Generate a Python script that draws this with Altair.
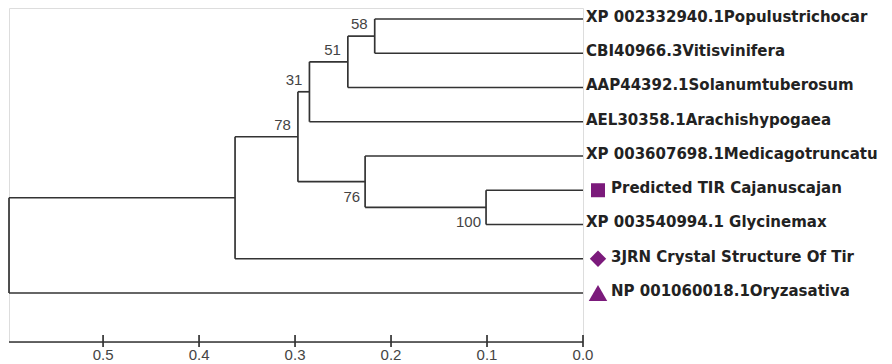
import altair as alt
import pandas as pd

# ---- data ----
leaf_names = [
    "XP 002332940.1Populustrichocar",
    "CBI40966.3Vitisvinifera",
    "AAP44392.1Solanumtuberosum",
    "AEL30358.1Arachishypogaea",
    "XP 003607698.1Medicagotruncatu",
    "Predicted TIR Cajanuscajan",
    "XP 003540994.1 Glycinemax",
    "3JRN Crystal Structure Of Tir",
    "NP 001060018.1Oryzasativa",
]
leaf_markers = ["", "", "", "", "", "square", "", "diamond", "triangle-up"]

node_ids = ["n58", "n51", "n31", "n100", "n76", "n78", "nA", "root"]
node_heights = [0.217, 0.245, 0.285, 0.101, 0.227, 0.297, 0.3625, 0.598]
node_children = [
    ("L0", "L1"),
    ("n58", "L2"),
    ("n51", "L3"),
    ("L5", "L6"),
    ("L4", "n100"),
    ("n31", "n76"),
    ("n78", "L7"),
    ("nA", "L8"),
]
node_support = [58, 51, 31, 100, 76, 78, None, None]

tick_values = [0.0, 0.1, 0.2, 0.3, 0.4, 0.5]
tick_labels = ["0.0", "0.1", "0.2", "0.3", "0.4", "0.5"]

# ---- tree layout from the structure ----
pos = {}
for i, _ in enumerate(leaf_names):
    pos[f"L{i}"] = (0.0, float(i))
parent = {}
for nid, h, ch in zip(node_ids, node_heights, node_children):
    ys = [pos[c][1] for c in ch]
    pos[nid] = (h, sum(ys) / 2.0)
    for k, c in enumerate(ch):
        parent[c] = (nid, k)

segs = []
for nid, h, ch in zip(node_ids, node_heights, node_children):
    ys = [pos[c][1] for c in ch]
    segs.append({"x": h, "x2": h, "y": min(ys), "y2": max(ys)})
    for c in ch:
        segs.append({"x": h, "x2": pos[c][0], "y": pos[c][1], "y2": pos[c][1]})
seg_df = pd.DataFrame(segs)

sup_rows = []
for nid, s in zip(node_ids, node_support):
    if s is None:
        continue
    side = "upper" if parent[nid][1] == 0 else "lower"
    sup_rows.append({"x": pos[nid][0], "y": pos[nid][1], "label": str(s), "side": side})
sup_df = pd.DataFrame(sup_rows)

leaf_df = pd.DataFrame({
    "x": [0.0] * len(leaf_names),
    "y": [float(i) for i in range(len(leaf_names))],
    "name": leaf_names,
    "marker": leaf_markers,
})

tick_df = pd.DataFrame({"x": tick_values, "label": tick_labels})
axis_df = pd.DataFrame({"x": [0.598], "x2": [0.0]})

W, H = 574, 334
xs = alt.Scale(domain=[0, 0.598], reverse=True, nice=False, zero=False)
ys = alt.Scale(domain=[-0.321, 9.431], reverse=True, nice=False, zero=False)
LINE = "#333333"
PURPLE = "#7b1a7b"

base_x = alt.X("x:Q", scale=xs, axis=None)
base_y = alt.Y("y:Q", scale=ys, axis=None)

branches = alt.Chart(seg_df).mark_rule(color=LINE, strokeWidth=1.7).encode(
    x=base_x, x2="x2:Q", y=base_y, y2="y2:Q"
)

sup_upper = alt.Chart(sup_df).transform_filter(alt.datum.side == "upper").mark_text(
    align="right", baseline="middle", dx=-7, dy=-12, fontSize=15,
    font="Liberation Sans", color="#444444"
).encode(x=base_x, y=base_y, text="label:N")

sup_lower = alt.Chart(sup_df).transform_filter(alt.datum.side == "lower").mark_text(
    align="right", baseline="middle", dx=-5, dy=15, fontSize=15,
    font="Liberation Sans", color="#444444"
).encode(x=base_x, y=base_y, text="label:N")

plain_labels = alt.Chart(leaf_df).transform_filter(alt.datum.marker == "").mark_text(
    align="left", baseline="middle", dx=3, dy=-2, fontSize=15, fontWeight="bold",
    font="DejaVu Sans", color="#222222"
).encode(x=base_x, y=base_y, text="name:N")

marked_labels = alt.Chart(leaf_df).transform_filter(alt.datum.marker != "").mark_text(
    align="left", baseline="middle", dx=28, dy=-2, fontSize=15, fontWeight="bold",
    font="DejaVu Sans", color="#222222"
).encode(x=base_x, y=base_y, text="name:N")

markers = alt.Chart(leaf_df).transform_filter(alt.datum.marker != "").mark_point(
    filled=True, color=PURPLE, opacity=1, xOffset=15
).encode(
    x=base_x, y=base_y,
    shape=alt.Shape("marker:N", scale=None, legend=None),
    size=alt.Size("marker:N", scale=alt.Scale(domain=["square", "diamond", "triangle-up"], range=[196, 340, 200]), legend=None),
)

axis_line = alt.Chart(axis_df).mark_rule(color=LINE, strokeWidth=1.7).encode(
    x=base_x, x2="x2:Q", y=alt.value(H)
)
ticks = alt.Chart(tick_df).mark_rule(color=LINE, strokeWidth=1.7).encode(
    x=base_x, y=alt.value(H - 7), y2=alt.value(H + 5)
)
tick_text = alt.Chart(tick_df).mark_text(
    align="center", baseline="middle", fontSize=15, font="Liberation Sans", color="#444444"
).encode(x=base_x, y=alt.value(H + 13), text="label:N")

chart = alt.layer(
    branches, sup_upper, sup_lower, plain_labels, marked_labels, markers,
    axis_line, ticks, tick_text
).properties(
    width=W, height=H,
    autosize=alt.AutoSizeParams(type="none"),
    padding={"left": 1, "top": 0, "right": 300, "bottom": 21},
).configure_view(stroke=None).configure(background="white")

chart.save("out.html", embed_options={"renderer": "svg", "actions": False})
